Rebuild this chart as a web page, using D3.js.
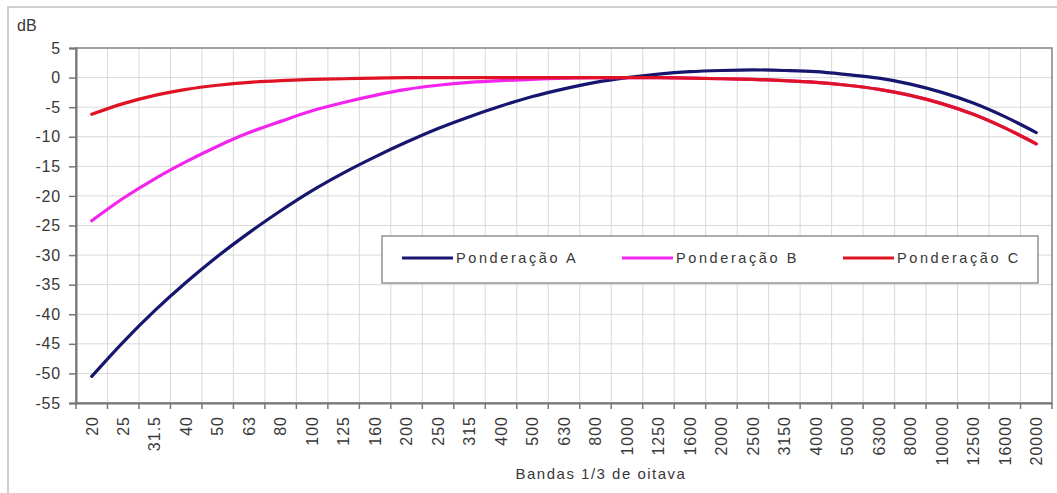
<!DOCTYPE html>
<html>
<head>
<meta charset="utf-8">
<script src="https://cdn.jsdelivr.net/npm/d3@7/dist/d3.min.js"></script>
<style>
  html, body { margin: 0; padding: 0; background: #fff; }
  svg { display: block; font-family: "Liberation Sans", Arial, sans-serif; }
  .tick text { fill: #383838; }
</style>
</head>
<body>
<svg id="chart" width="1057" height="493"></svg>
<script>
// 1/3-octave band centre frequencies (Hz)
const bands = ["20","25","31.5","40","50","63","80","100","125","160","200","250","315","400","500","630","800","1000","1250","1600","2000","2500","3150","4000","5000","6300","8000","10000","12500","16000","20000"];

// Frequency weighting corrections (dB) per band
const weightA = [-50.5,-44.7,-39.4,-34.6,-30.2,-26.2,-22.5,-19.1,-16.1,-13.4,-10.9,-8.6,-6.6,-4.8,-3.2,-1.9,-0.8,0,0.6,1.0,1.2,1.3,1.2,1.0,0.5,-0.1,-1.1,-2.5,-4.3,-6.6,-9.3];
const weightB = [-24.2,-20.4,-17.1,-14.2,-11.6,-9.3,-7.4,-5.6,-4.2,-3.0,-2.0,-1.3,-0.8,-0.5,-0.3,-0.1,0,0,0,-0.1,-0.2,-0.3,-0.5,-0.8,-1.3,-2.0,-3.0,-4.4,-6.2,-8.5,-11.2];
const weightC = [-6.2,-4.4,-3.0,-2.0,-1.3,-0.8,-0.5,-0.3,-0.2,-0.1,0,0,0,0,0,0,0,0,0,-0.1,-0.2,-0.3,-0.5,-0.8,-1.3,-2.0,-3.0,-4.4,-6.2,-8.5,-11.2];

const yTicks = [5,0,-5,-10,-15,-20,-25,-30,-35,-40,-45,-50,-55];

const series = [
  { name: "Ponderação A", values: weightA, color: "#16166e" },
  { name: "Ponderação B", values: weightB, color: "#f224ee" },
  { name: "Ponderação C", values: weightC, color: "#de1424" }
];

const svg = d3.select("#chart");
const plotL = 76, plotR = 1052, plotT = 48, plotB = 403;

const x = d3.scaleBand().domain(bands).range([plotL, plotR]).paddingInner(0).paddingOuter(0);
const y = d3.scaleLinear().domain([-55, 5]).range([plotB, plotT]);
const cx = d => x(d) + x.bandwidth() / 2;

// outer chart frame
svg.append("rect")
  .attr("x", 8).attr("y", 7).attr("width", 1100).attr("height", 600)
  .attr("fill", "none").attr("stroke", "#c4c4c4").attr("stroke-width", 1.6);

// grid
const grid = svg.append("g").attr("stroke", "#d9d9d9").attr("stroke-width", 1);
grid.selectAll("line.h").data(yTicks.filter(v => v > -55 && v < 5)).join("line")
  .attr("class", "h")
  .attr("x1", plotL).attr("x2", plotR)
  .attr("y1", d => y(d)).attr("y2", d => y(d));
grid.selectAll("line.v").data(bands.slice(1)).join("line")
  .attr("class", "v")
  .attr("y1", plotT).attr("y2", plotB)
  .attr("x1", d => x(d)).attr("x2", d => x(d));

// plot area border
svg.append("rect")
  .attr("x", plotL).attr("y", plotT).attr("width", plotR - plotL).attr("height", plotB - plotT)
  .attr("fill", "none").attr("stroke", "#8a8a8a").attr("stroke-width", 1.6);

// y axis
const yAxis = svg.append("g").attr("transform", `translate(${plotL},0)`)
  .call(d3.axisLeft(y).tickValues(yTicks).tickSize(7).tickPadding(8).tickFormat(d => String(d)));
yAxis.select(".domain").attr("stroke", "#777").attr("stroke-width", 2);
yAxis.selectAll(".tick line").attr("stroke", "#777").attr("stroke-width", 1.5);
yAxis.selectAll(".tick text").attr("font-size", 16).style("letter-spacing", "0.8px");

// x axis: labels at band centres, tick marks at band boundaries
const xAxis = svg.append("g").attr("transform", `translate(0,${plotB})`)
  .call(d3.axisBottom(x).tickSize(0).tickPadding(0));
xAxis.select(".domain").attr("stroke", "#777").attr("stroke-width", 2);
xAxis.selectAll(".tick text")
  .attr("transform", "rotate(-90)")
  .attr("x", -13).attr("y", 0).attr("dy", "0.36em")
  .attr("text-anchor", "end")
  .attr("font-size", 16)
  .style("letter-spacing", "1px");
xAxis.selectAll("line.bound").data(d3.range(bands.length + 1)).join("line")
  .attr("class", "bound")
  .attr("x1", i => plotL + i * x.step()).attr("x2", i => plotL + i * x.step())
  .attr("y1", 0).attr("y2", 6)
  .attr("stroke", "#777").attr("stroke-width", 1.5);

// axis titles
svg.append("text").attr("x", 17).attr("y", 31).attr("font-size", 16).attr("fill", "#383838").text("dB");
svg.append("text").attr("x", 601).attr("y", 479).attr("text-anchor", "middle")
  .attr("font-size", 15).attr("fill", "#383838").style("letter-spacing", "1.5px")
  .text("Bandas 1/3 de oitava");

// weighting curves
const line = d3.line()
  .x((v, i) => cx(bands[i]))
  .y(v => y(v))
  .curve(d3.curveCatmullRom.alpha(0.5));

svg.append("g").selectAll("path").data(series).join("path")
  .attr("d", s => line(s.values))
  .attr("fill", "none")
  .attr("stroke", s => s.color)
  .attr("stroke-width", 3.2)
  .attr("stroke-linejoin", "round")
  .attr("stroke-linecap", "round");

// legend
const legend = svg.append("g");
legend.append("rect")
  .attr("x", 382).attr("y", 236).attr("width", 656).attr("height", 47)
  .attr("fill", "#fff").attr("stroke", "#8a8a8a").attr("stroke-width", 1.4);
const legendX = [402, 622, 843];
const items = legend.selectAll("g.item").data(series).join("g")
  .attr("class", "item")
  .attr("transform", (s, i) => `translate(${legendX[i]},258)`);
items.append("line").attr("x1", 0).attr("x2", 51).attr("y1", 0).attr("y2", 0)
  .attr("stroke", s => s.color).attr("stroke-width", 3.2);
items.append("text").attr("x", 54).attr("y", 0).attr("dy", "0.36em")
  .attr("font-size", 14.5).attr("fill", "#383838").style("letter-spacing", "2.6px")
  .text(s => s.name);
</script>
</body>
</html>
